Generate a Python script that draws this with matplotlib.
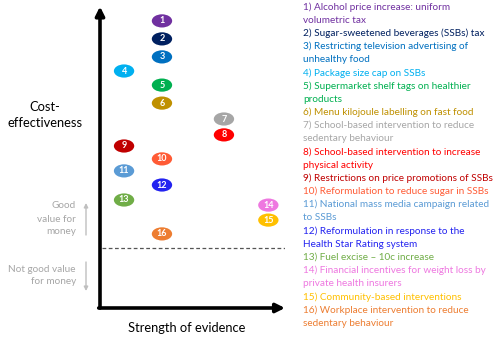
import matplotlib.pyplot as plt
from matplotlib.patches import Ellipse

# Interventions: evidence strength (x) and cost-effectiveness (y), 0-10 scale
ids = list(range(1, 17))
evidence = [3.35, 3.35, 3.35, 1.3, 3.35, 3.35, 6.7, 6.7, 1.3, 3.35, 1.3, 3.35, 1.3, 9.1, 9.1, 3.35]
cost_eff = [9.57, 8.97, 8.37, 7.9, 7.43, 6.83, 6.3, 5.77, 5.4, 4.97, 4.57, 4.1, 3.6, 3.43, 2.93, 2.47]
threshold = 2.0

colors = ['#7030A0', '#002060', '#0070C0', '#00B0F0', '#00B050', '#BF9000',
          '#A6A6A6', '#FF0000', '#C00000', '#FF5B35', '#5B9BD5', '#2323F0',
          '#70AD47', '#EE78E0', '#FFC000', '#ED7D31']

labels = [
    '1) Alcohol price increase: uniform\nvolumetric tax',
    '2) Sugar-sweetened beverages (SSBs) tax',
    '3) Restricting television advertising of\nunhealthy food',
    '4) Package size cap on SSBs',
    '5) Supermarket shelf tags on healthier\nproducts',
    '6) Menu kilojoule labelling on fast food',
    '7) School-based intervention to reduce\nsedentary behaviour',
    '8) School-based intervention to increase\nphysical activity',
    '9) Restrictions on price promotions of SSBs',
    '10) Reformulation to reduce sugar in SSBs',
    '11) National mass media campaign related\nto SSBs',
    '12) Reformulation in response to the\nHealth Star Rating system',
    '13) Fuel excise \u2013 10c increase',
    '14) Financial incentives for weight loss by\nprivate health insurers',
    '15) Community-based interventions',
    '16) Workplace intervention to reduce\nsedentary behaviour',
]

plt.rcParams['font.family'] = ['Liberation Sans Narrow', 'Lato', 'DejaVu Sans']

W, H = 500, 347
fig = plt.figure(figsize=(W / 100, H / 100), dpi=100)
renderer = fig.canvas.get_renderer()


def fit_size(txt, target_px):
    """Scale a text's font size so its width comes out at target_px."""
    w = txt.get_window_extent(renderer).width
    fs = txt.get_fontsize() * target_px / w
    txt.set_fontsize(fs)
    return fs


ax = fig.add_axes([100 / W, (H - 308) / H, 185 / W, 300 / H])
ax.set_xlim(0, 10)
ax.set_ylim(0, 10)
ax.axis('off')

# axis arrows
arrow = dict(arrowstyle='-|>', lw=2.6, color='black', mutation_scale=13,
             shrinkA=0, shrinkB=0)
ax.annotate('', xy=(0, 1.005), xytext=(0, 0), xycoords='axes fraction',
            textcoords='axes fraction', arrowprops=arrow)
ax.annotate('', xy=(1.0, 0), xytext=(-0.007, 0), xycoords='axes fraction',
            textcoords='axes fraction', arrowprops=arrow)

# value-for-money threshold
ax.plot([0.1, 10], [threshold, threshold], ls=(0, (3, 2)), lw=0.9, color='#555555')

# bubbles
for i, x, y, c in zip(ids, evidence, cost_eff, colors):
    ax.add_patch(Ellipse((x, y), 1.1, 0.44, facecolor=c, edgecolor='none', clip_on=False))
    ax.text(x, y, str(i), color='white', fontsize=6.5, fontweight='bold',
            ha='center', va='center', family=['Lato', 'DejaVu Sans'])

# axis titles
t = fig.text(45 / W, 1 - 123 / H, 'effectiveness', fontsize=11, ha='center', va='center')
fs_axis = fit_size(t, 75)
fig.text(45 / W, 1 - 107 / H, 'Cost-', fontsize=fs_axis, ha='center', va='center')
t = fig.text(187 / W, 1 - 328 / H, 'Strength of evidence', fontsize=11, ha='center',
             va='center')
fit_size(t, 118)

# good / not good value annotations
grey_txt = '#A6A6A6'
grey_arr = '#BFBFBF'
t = fig.text(76 / W, 1 - 269 / H, 'Not good value', fontsize=8.5, color=grey_txt,
             ha='right', va='center')
fs_grey = fit_size(t, 68)
for s, yy in [('for money', 282), ('Good', 206), ('value for', 219), ('money', 232)]:
    fig.text(76 / W, 1 - yy / H, s, fontsize=fs_grey, color=grey_txt,
             ha='right', va='center')
garrow = dict(arrowstyle='-|>', lw=1.0, color=grey_arr, mutation_scale=6,
              shrinkA=0, shrinkB=0)
fig.add_artist(plt.Annotation('', xy=(86 / W, 1 - 203 / H), xytext=(86 / W, 1 - 235 / H),
                              xycoords='figure fraction', textcoords='figure fraction',
                              arrowprops=garrow))
fig.add_artist(plt.Annotation('', xy=(86 / W, 1 - 291 / H), xytext=(86 / W, 1 - 262 / H),
                              xycoords='figure fraction', textcoords='figure fraction',
                              arrowprops=garrow))

# legend list on the right
probe = fig.text(0, 0, labels[1], fontsize=8.3)
fs_leg = fit_size(probe, 181)
probe.remove()

line_h = 13.17
y = 7
for lab, c in zip(labels, colors):
    for k, part in enumerate(lab.split('\n')):
        fig.text(303 / W, 1 - (y + k * line_h) / H, part, fontsize=fs_leg, color=c,
                 ha='left', va='center')
    y += line_h * (lab.count('\n') + 1)

fig.savefig('out.png', dpi=100)
